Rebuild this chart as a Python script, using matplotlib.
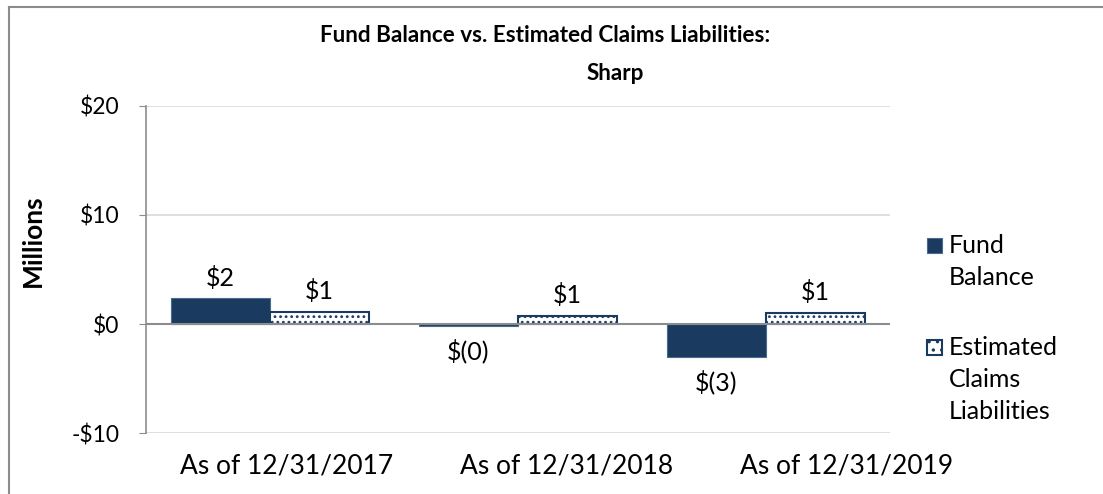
import matplotlib.pyplot as plt
import numpy as np
from matplotlib.lines import Line2D
from matplotlib.patches import Rectangle

# chart data (millions)
categories = ["As of 12/31/2017", "As of 12/31/2018", "As of 12/31/2019"]
fund_balance = [2.39, -0.2, -3.06]
est_claims = [1.13, 0.76, 1.04]
fund_labels = ["$2", "$(0)", "$(3)"]
claims_labels = ["$1", "$1", "$1"]
series_names = ["Fund\nBalance", "Estimated\nClaims\nLiabilities"]
yticks = [-10, 0, 10, 20]
ytick_labels = ["-$10", "$0", "$10", "$20"]

navy = "#1B3A5F"
grey = "#8C8C8C"
plt.rcParams['font.family'] = ['Lato', 'DejaVu Sans']
plt.rcParams['hatch.color'] = navy
plt.rcParams['hatch.linewidth'] = 1.2

W, H = 1103, 494
fig = plt.figure(figsize=(W / 100, H / 100), dpi=100)
ax = fig.add_axes([146 / W, 1 - 433 / H, (890 - 146) / W, (433 - 106) / H])

x = np.arange(len(categories))
w = 0.4
b1 = ax.bar(x - w / 2, fund_balance, w, color=navy, edgecolor="#4A6A90", linewidth=0.8, zorder=3)
b2 = ax.bar(x + w / 2, est_claims, w, color="white", edgecolor=navy, hatch="...",
            linewidth=1.5, zorder=3)

for rect, lab, v in zip(b1, fund_labels, fund_balance):
    up = v >= 0
    ax.annotate(lab, (rect.get_x() + rect.get_width() / 2, v), xytext=(0, 6 if up else -9),
                textcoords="offset points", ha="center", va="bottom" if up else "top",
                fontsize=18)
for rect, lab, v in zip(b2, claims_labels, est_claims):
    ax.annotate(lab, (rect.get_x() + rect.get_width() / 2, v), xytext=(0, 6),
                textcoords="offset points", ha="center", va="bottom", fontsize=18)

ax.set_xlim(-0.5, 2.5)
ax.set_ylim(-10, 20)
ax.set_yticks(yticks)
ax.set_yticklabels(ytick_labels, fontsize=16.5)
ax.set_xticks([])
ax.tick_params(axis="y", length=5, color=grey, pad=14)
ax.grid(axis="y", color="#D9D9D9", linewidth=1.2, zorder=0)
ax.axhline(0, color=grey, linewidth=1.5, zorder=4)
for s in ["top", "right", "bottom"]:
    ax.spines[s].set_visible(False)
ax.spines["left"].set_color(grey)
ax.spines["left"].set_linewidth(1.2)

ax.set_ylabel("Millions", fontsize=19, fontweight="bold")
ax.yaxis.set_label_coords((45 - 146) / (890 - 146), (433 - 241) / (433 - 106))

# category labels are laid out over a wider band than the bars (as in the source)
lab_ax = fig.add_axes([146 / W, 1 - 433 / H, (987 - 146) / W, 0.001])
lab_ax.set_xlim(-0.5, 2.5)
lab_ax.set_xticks(x)
lab_ax.set_xticklabels(categories, fontsize=19)
lab_ax.set_yticks([])
lab_ax.tick_params(axis="x", length=0, pad=15)
lab_ax.patch.set_visible(False)
for s in lab_ax.spines.values():
    s.set_visible(False)

# title (two lines, centred separately as in the source)
fig.text(545 / W, 1 - 36 / H, "Fund Balance vs. Estimated Claims Liabilities:",
         ha="center", va="center", fontsize=16.2, fontweight="bold")
fig.text(615 / W, 1 - 73 / H, "Sharp", ha="center", va="center", fontsize=16.2, fontweight="bold")

# legend, drawn by hand so the key sits on the first text line
legend_rows = [(253, dict(facecolor=navy, edgecolor="#4A6A90", linewidth=0.8)),
               (355, dict(facecolor="white", edgecolor=navy, hatch="..", linewidth=1.5))]
for (base, style), name in zip(legend_rows, series_names):
    fig.add_artist(Rectangle((927 / W, 1 - base / H), 15 / W, 15 / H,
                             transform=fig.transFigure, **style))
    for i, line in enumerate(name.split("\n")):
        fig.text(949 / W, 1 - (base + 32 * i) / H, line, ha="left", va="baseline", fontsize=18)

# outer chart border (left/top)
fig.add_artist(Line2D([9 / W, 9 / W], [0, 1 - 7 / H], transform=fig.transFigure,
                      color=grey, linewidth=1.5))
fig.add_artist(Line2D([9 / W, 1], [1 - 7 / H, 1 - 7 / H], transform=fig.transFigure,
                      color=grey, linewidth=1.5))

fig.savefig("out.png", dpi=100)
